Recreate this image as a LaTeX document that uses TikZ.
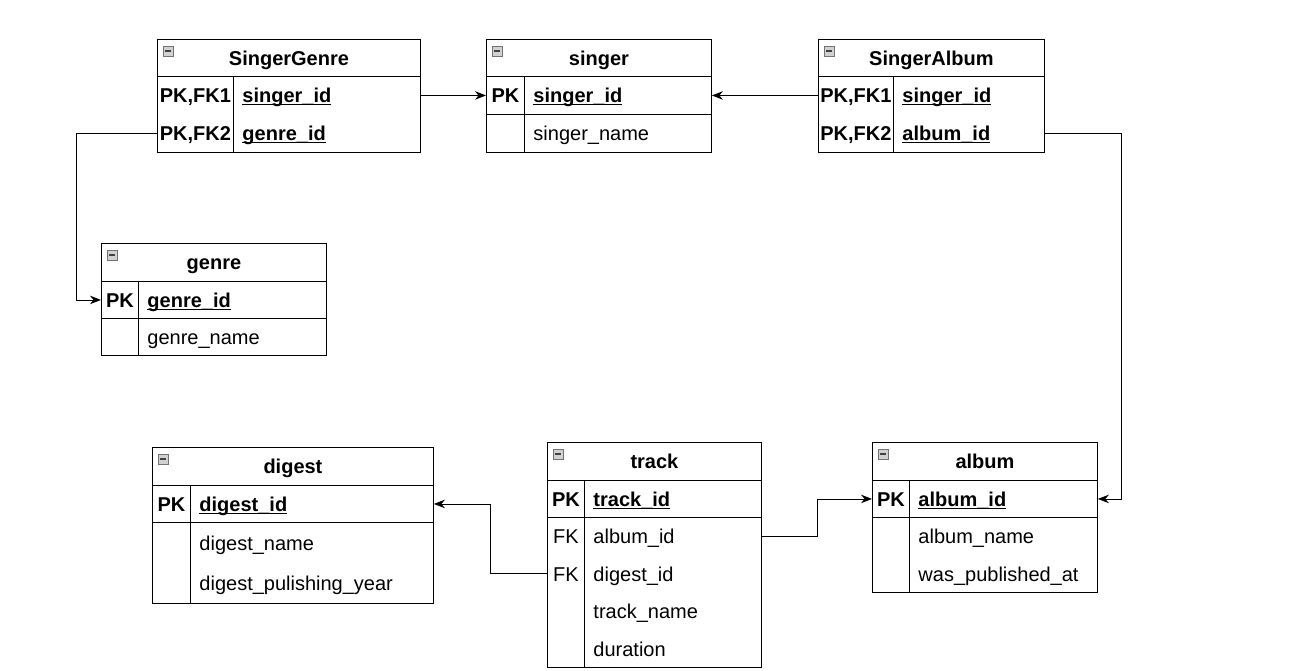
\documentclass[tikz,border=0pt]{standalone}
\usepackage{fontspec}
\setmainfont{Liberation Sans}
\usepackage{tikz}
\usetikzlibrary{arrows.meta}
\newcommand{\pkey}[1]{\underline{\smash{\textbf{#1}}}}
\begin{document}
\begin{tikzpicture}[x=1pt,y=-1pt,line width=0.9pt,font=\fontsize{20}{24}\selectfont,
txt/.style={text height=18pt,text depth=3pt},
hdr/.style 2 args={draw,txt,anchor=north west,inner sep=0pt,minimum width=#1,minimum height=#2},
kc/.style 2 args={txt,anchor=north west,inner sep=0pt,minimum width=#1,minimum height=#2},
fc/.style 2 args={txt,anchor=north west,inner xsep=9pt,inner ysep=0pt,text width=#1,minimum height=#2,align=left},
tog/.style={draw=black!55,fill=black!18,line width=0.7pt},
rel/.style={-{Stealth[length=11pt,width=8.5pt]},line width=0.9pt}]
\useasboundingbox[fill=white](0,0)rectangle(1312,671);
%SingerGenre
\node[hdr={263}{37}](sgH)at(157,39){\textbf{SingerGenre}};
\node[kc={76}{38}](sgK1)at(157,76){\textbf{PK,FK1}};
\node[kc={76}{38}](sgK2)at(157,114){\textbf{PK,FK2}};
\node[fc={169}{38}](sgF1)at(233,76){\pkey{singer\_id}};
\node[fc={169}{38}](sgF2)at(233,114){\pkey{genre\_id}};
\draw(sgK1.north west)rectangle(sgK2.south east)(sgF1.north west)rectangle(sgF2.south east);
%singer
\node[hdr={225}{37}](sH)at(486,39){\textbf{singer}};
\node[kc={38}{38},draw](sK1)at(486,76){\textbf{PK}};
\node[fc={169}{38},draw](sF1)at(524,76){\pkey{singer\_id}};
\node[kc={38}{38},draw](sK2)at(486,114){};
\node[fc={169}{38},draw](sF2)at(524,114){singer\_name};
%SingerAlbum
\node[hdr={226}{37}](saH)at(818,39){\textbf{SingerAlbum}};
\node[kc={75}{38}](saK1)at(818,76){\textbf{PK,FK1}};
\node[kc={75}{38}](saK2)at(818,114){\textbf{PK,FK2}};
\node[fc={133}{38}](saF1)at(893,76){\pkey{singer\_id}};
\node[fc={133}{38}](saF2)at(893,114){\pkey{album\_id}};
\draw(saK1.north west)rectangle(saK2.south east)(saF1.north west)rectangle(saF2.south east);
%genre
\node[hdr={225}{38}](gH)at(101,243){\textbf{genre}};
\node[kc={37}{37},draw](gK1)at(101,281){\textbf{PK}};
\node[fc={170}{37},draw](gF1)at(138,281){\pkey{genre\_id}};
\node[kc={37}{37},draw](gK2)at(101,318){};
\node[fc={170}{37},draw](gF2)at(138,318){genre\_name};
%digest
\node[hdr={281}{38}](dH)at(152,447){\textbf{digest}};
\node[kc={38}{37},draw](dK1)at(152,485){\textbf{PK}};
\node[fc={225}{37},draw](dF1)at(190,485){\pkey{digest\_id}};
\node[fc={225}{40.5}](dF2)at(190,522){digest\_name};
\node[fc={225}{40.5}](dF3)at(190,562.5){digest\_pulishing\_year};
\draw(152,522)rectangle(190,603)(190,522)rectangle(433,603);
%track
\node[hdr={214}{38}](tH)at(547,442){\textbf{track}};
\node[kc={37}{37},draw](tK0)at(547,480){\textbf{PK}};
\node[fc={159}{37},draw](tF0)at(584,480){\pkey{track\_id}};
\node[kc={37}{37.5}](tK1)at(547,517){FK};
\node[kc={37}{37.5}](tK2)at(547,554.5){FK};
\node[fc={159}{37.5}](tF1)at(584,517){album\_id};
\node[fc={159}{37.5}](tF2)at(584,554.5){digest\_id};
\node[fc={159}{37.5}](tF3)at(584,592){track\_name};
\node[fc={159}{37.5}](tF4)at(584,629.5){duration};
\draw(547,517)rectangle(584,667)(584,517)rectangle(761,667);
%album
\node[hdr={225}{38}](aH)at(872,442){\textbf{album}};
\node[kc={37}{37},draw](aK1)at(872,480){\textbf{PK}};
\node[fc={170}{37},draw](aF1)at(909,480){\pkey{album\_id}};
\node[fc={170}{37.5}](aF2)at(909,517){album\_name};
\node[fc={170}{37.5}](aF3)at(909,554.5){was\_published\_at};
\draw(872,517)rectangle(909,592)(909,517)rectangle(1097,592);
%collapse boxes
\foreach \h in {sgH,sH,saH,gH,dH,tH,aH}{
  \draw[tog]([shift={(6,7)}]\h.north west)rectangle++(10,10);
  \draw[line width=1.2pt,black!75]([shift={(8,12)}]\h.north west)--++(6,0);
}
%relations
\draw[rel](sgF1.east)--(sK1.west);
\draw[rel](saK1.west)--(sF1.east);
\draw[rel](sgK2.west)--++(-81,0)|-(gK1.west);
\draw[rel](saF2.east)--++(77,0)|-(aF1.east);
\draw[rel](tK2.west)--++(-57,0)|-(dF1.east);
\draw[rel](tF1.east)--++(56,0)|-(aK1.west);
\end{tikzpicture}
\end{document}
